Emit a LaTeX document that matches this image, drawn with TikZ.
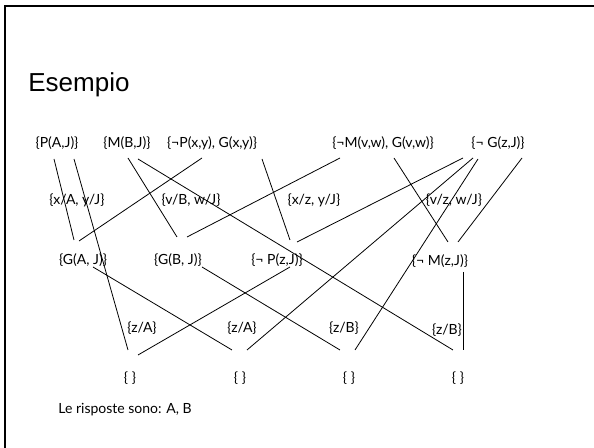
\documentclass[tikz,border=0pt]{standalone}
\usepackage{fontspec}
\setmainfont{Lato}
\newfontfamily\titlefont{Liberation Sans}
\tikzset{every picture/.style={line width=0.6pt}}
\tikzset{
  clause/.style={inner sep=0.75pt, font=\fontsize{10.5}{12}\selectfont},
  subst/.style={inner sep=0.75pt, font=\fontsize{10.5}{12}\selectfont},
  res/.style={draw=black, line width=0.6pt},
}

\begin{document}
\begin{tikzpicture}[x=0.75pt,y=0.75pt,yscale=-1,xscale=1]
	\useasboundingbox (0,0) rectangle (594,448);
	
	%Frame
	\draw [line width=1.7pt] (5,448) -- (5,6) -- (594,6) ;
	
	% Title
	\node [anchor=base west, inner sep=0pt, font=\titlefont\fontsize{19.5}{22}\selectfont] (title) at (28,92) {Esempio};
	
	% Clauses, first row
	\node [clause] (pa) at (57,143) {\{P(A,J)\}};
	\node [clause] (mb) at (127,143) {\{M(B,J)\}};
	\node [clause] (pg) at (212,143) {\{¬P(x,y), G(x,y)\}};
	\node [clause] (mg) at (383,143) {\{¬M(v,w), G(v,w)\}};
	\node [clause] (ng) at (498,143) {\{¬ G(z,J)\}};
	
	% Substitutions
	\node [subst] (s1) at (77,200) {\{x/A, y/J\}};
	\node [subst] (s2) at (191,200) {\{v/B, w/J\}};
	\node [subst] (s3) at (314,200) {\{x/z, y/J\}};
	\node [subst] (s4) at (454,200) {\{v/z, w/J\}};
	
	% Resolvents
	\node [clause] (ga) at (83,260) {\{G(A, J)\}};
	\node [clause] (gb) at (178,260) {\{G(B, J)\}};
	\node [clause] (np) at (277,260) {\{¬ P(z,J)\}};
	\node [clause] (nm) at (440,261) {\{¬ M(z,J)\}};
	
	% Substitutions, second level
	\node [subst] (t1) at (142,328) {\{z/A\}};
	\node [subst] (t2) at (242,328) {\{z/A\}};
	\node [subst] (t3) at (344,328) {\{z/B\}};
	\node [subst] (t4) at (447,330) {\{z/B\}};
	
	% Empty clauses
	\node [clause] (e1) at (130,378) {\{ \}};
	\node [clause] (e2) at (240,378) {\{ \}};
	\node [clause] (e3) at (349,378) {\{ \}};
	\node [clause] (e4) at (458,378) {\{ \}};
	
	% Answer
	\node [anchor=west, inner sep=0pt, font=\fontsize{10.5}{12}\selectfont] (ans) at (58,410) {Le risposte sono: A, B};
	
	% first resolution step
	\draw [res] ([shift={(-3,16)}]pa.center) -- ([shift={(-9,-20)}]ga.center) ;
	\draw [res] ([shift={(-10,15)}]pg.center) -- ([shift={(-4,-19)}]ga.center) ;
	\draw [res] ([shift={(1,15)}]mb.center) -- ([shift={(-1,-23)}]gb.center) ;
	\draw [res] ([shift={(-43,15)}]mg.center) -- ([shift={(9,-23)}]gb.center) ;
	\draw [res] ([shift={(50,16)}]pg.center) -- ([shift={(13,-20)}]np.center) ;
	\draw [res] ([shift={(-35,15)}]ng.center) -- ([shift={(20,-18)}]np.center) ;
	\draw [res] ([shift={(11,15)}]mg.center) -- ([shift={(8,-19)}]nm.center) ;
	\draw [res] ([shift={(24,15)}]ng.center) -- ([shift={(18,-19)}]nm.center) ;
	
	% second resolution step
	\draw [res] ([shift={(17,16)}]pa.center) -- ([shift={(-2,-28)}]e1.center) ;
	\draw [res] ([shift={(13,7)}]np.center) -- ([shift={(8,-23)}]e1.center) ;
	\draw [res] ([shift={(10,7)}]ga.center) -- ([shift={(-8,-28)}]e2.center) ;
	\draw [res] ([shift={(-25,15)}]ng.center) -- ([shift={(7,-28)}]e2.center) ;
	\draw [res] ([shift={(24,7)}]gb.center) -- ([shift={(-9,-28)}]e3.center) ;
	\draw [res] ([shift={(-20,16)}]ng.center) -- ([shift={(6,-28)}]e3.center) ;
	\draw [res] ([shift={(11,16)}]mb.center) -- ([shift={(-5,-28)}]e4.center) ;
	\draw [res] ([shift={(23,11)}]nm.center) -- ([shift={(5,-28)}]e4.center) ;
	
\end{tikzpicture}
\end{document}
